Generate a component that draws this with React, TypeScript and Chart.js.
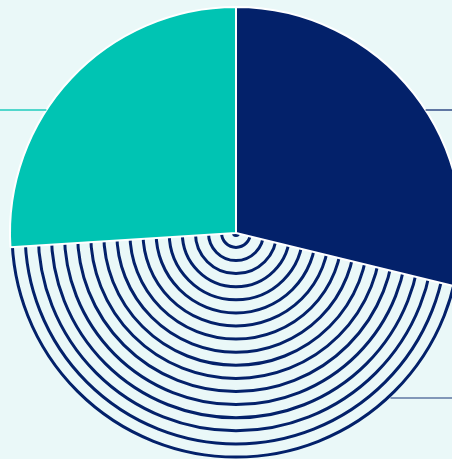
import React, { useEffect, useRef } from "react";
import { Chart, registerables } from "chart.js";

Chart.register(...registerables);

const labels = ["Segment A", "Segment B", "Segment C"];
const values = [28.8, 45.2, 26];
const sliceColors = ["#03216a", "rgba(0,0,0,0)", "#00c4b3"];

const BG = "#eaf8f8";
const NAVY = "#03216a";
const RING_COUNT = 18;
const RING_GAP = 13.1;
const RING_OUTER = 224;

const ringPlugin = {
  id: "rings",
  beforeDatasetsDraw(chart: any) {
    const meta = chart.getDatasetMeta(0);
    const arc = meta.data[1];
    if (!arc) return;
    const { x, y, startAngle, endAngle, outerRadius } = arc.getProps(
      ["x", "y", "startAngle", "endAngle", "outerRadius"],
      true
    );
    const ctx = chart.ctx;
    ctx.save();
    ctx.beginPath();
    ctx.moveTo(x, y);
    ctx.arc(x, y, outerRadius + 2, startAngle, endAngle);
    ctx.closePath();
    ctx.clip();
    ctx.strokeStyle = NAVY;
    ctx.lineWidth = 3;
    for (let k = 0; k < RING_COUNT; k++) {
      const r = Math.max(RING_OUTER - RING_GAP * k, 0.5);
      ctx.beginPath();
      ctx.arc(x, y, r, 0, Math.PI * 2);
      ctx.stroke();
    }
    ctx.fillStyle = NAVY;
    ctx.beginPath();
    ctx.arc(x, y, 4, 0, Math.PI * 2);
    ctx.fill();
    ctx.restore();
  },
  afterDatasetsDraw(chart: any) {
    const meta = chart.getDatasetMeta(0);
    const arc = meta.data[0];
    if (!arc) return;
    const { x, y, outerRadius } = arc.getProps(["x", "y", "outerRadius"], true);
    const ctx = chart.ctx;
    const w = chart.width;
    const leaders = [
      { dy: -123, side: -1, color: "rgba(0,196,179,0.65)" },
      { dy: -123, side: 1, color: "rgba(3,33,106,0.6)" },
      { dy: 165, side: 1, color: "rgba(3,33,106,0.45)" },
    ];
    ctx.save();
    ctx.lineWidth = 2;
    leaders.forEach((l) => {
      const dx = Math.sqrt(Math.max(outerRadius * outerRadius - l.dy * l.dy, 0));
      const yy = y + l.dy;
      ctx.strokeStyle = l.color;
      ctx.beginPath();
      ctx.moveTo(x + l.side * dx, yy);
      ctx.lineTo(l.side < 0 ? 0 : w, yy);
      ctx.stroke();
    });
    ctx.restore();
  },
};

export default function App() {
  const ref = useRef<HTMLCanvasElement>(null);
  useEffect(() => {
    if (!ref.current) return;
    const chart = new Chart(ref.current, {
      type: "pie",
      data: {
        labels,
        datasets: [
          {
            data: values,
            backgroundColor: sliceColors,
            borderColor: ["#ffffff", "rgba(0,0,0,0)", "#ffffff"],
            borderWidth: [2, 0, 2],
            radius: 226,
          } as any,
        ],
      },
      options: {
        animation: false,
        responsive: true,
        maintainAspectRatio: false,
        layout: { padding: 0 },
        plugins: {
          legend: { display: false },
          tooltip: { enabled: false },
        },
      },
      plugins: [ringPlugin],
    });
    return () => chart.destroy();
  }, []);
  return (
    <div style={{ position: "fixed", inset: 0, background: BG, overflow: "hidden" }}>
      <div style={{ position: "absolute", left: 0, top: 3, width: 472, height: 460 }}>
        <canvas ref={ref} />
      </div>
    </div>
  );
}
